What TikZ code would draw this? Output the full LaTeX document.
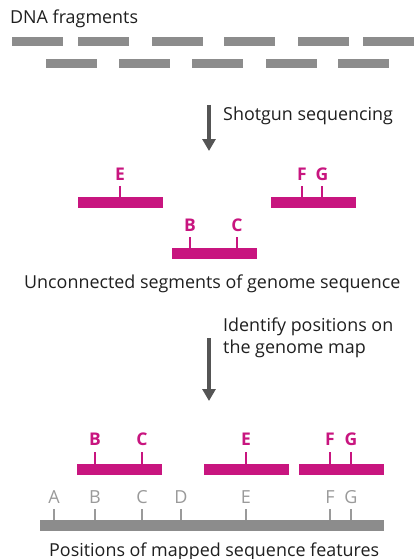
\documentclass[tikz,border=0pt]{standalone}
\usepackage{fontspec}
\setmainfont{Open Sans}
\usetikzlibrary{arrows.meta}
\definecolor{frag}{HTML}{8C8C8C}
\definecolor{mag}{HTML}{C8157F}
\definecolor{arr}{HTML}{555555}
\definecolor{lab}{HTML}{9A9A9A}
\tikzset{
  fragbox/.style={fill=frag,draw=none,inner sep=0pt,minimum width=51pt,minimum height=9pt,anchor=north west},
  segbox/.style={fill=mag,draw=none,inner sep=0pt,minimum width=85pt,minimum height=10.5pt,anchor=north west},
  ticklab/.style={text=mag,font=\fontsize{17.5}{20}\selectfont\bfseries,inner sep=0pt,anchor=base},
  graylab/.style={text=lab,font=\fontsize{18}{20}\selectfont,inner sep=0pt,anchor=base},
  mtick/.style={draw=mag,line width=2pt},
  gtick/.style={draw=lab,line width=2pt},
  txt/.style={font=\fontsize{17.9}{22}\selectfont,text=black!88,inner sep=0pt,anchor=base west},
  bigarrow/.style={draw=arr,line width=4pt,-{Triangle[width=13pt,length=12pt]}},
}
\begin{document}
\begin{tikzpicture}[x=1pt,y=-1pt]
\useasboundingbox (0,0) rectangle (414,559);
% title
\node[txt] (title) at (10,24) {DNA fragments};
% fragments row 1
\foreach \x [count=\i] in {12,78,152,224,298,363}
  \node[fragbox] (f1\i) at (\x,37) {};
% fragments row 2
\foreach \x [count=\i] in {46,119,192,266,338}
  \node[fragbox] (f2\i) at (\x,59) {};
% arrow 1
\coordinate (a1s) at (209,105);
\coordinate (a1e) at (209,151);
\draw[bigarrow] (a1s) -- (a1e);
\node[txt] (shot) at (223,121) {Shotgun sequencing};
% unconnected segments
\node[segbox] (sE) at (78,197) {};
\node[segbox] (sFG) at (271,197) {};
\node[segbox] (sBC) at (172,248) {};
\foreach \x/\l/\y in {120/E/197,302/F/197,322/G/197,190/B/248,237/C/248}{
  \draw[mtick] (\x,\y) -- (\x,\y-11);
  \node[ticklab] (u\l) at (\x,\y-17) {\l};
}
\node[txt] (unc) at (24,288) {Unconnected segments of genome sequence};
% arrow 2
\coordinate (a2s) at (209,338);
\coordinate (a2e) at (209,401);
\draw[bigarrow] (a2s) -- (a2e);
\node[txt,align=left,anchor=base west] (ident) at (223,353) {Identify positions on\\the genome map};
% mapped segments
\node[segbox] (mBC) at (77,464) {};
\node[segbox] (mE) at (204,464) {};
\node[segbox] (mFG) at (299,464) {};
\foreach \x/\l in {95/B,142/C,246/E,330/F,351/G}{
  \draw[mtick] (\x,464) -- (\x,452);
  \node[ticklab] (m\l) at (\x,445) {\l};
}
% genome map bar
\node[fill=frag,draw=none,inner sep=0pt,minimum width=344pt,minimum height=11pt,anchor=north west] (bar) at (40,520) {};
\foreach \x/\l in {54/A,95/B,142/C,181/D,246/E,330/F,351/G}{
  \draw[gtick] (\x,520) -- (\x,509);
  \node[graylab] (g\l) at (\x,503) {\l};
}
\node[txt] (pos) at (49,556) {Positions of mapped sequence features};
\end{tikzpicture}
\end{document}
